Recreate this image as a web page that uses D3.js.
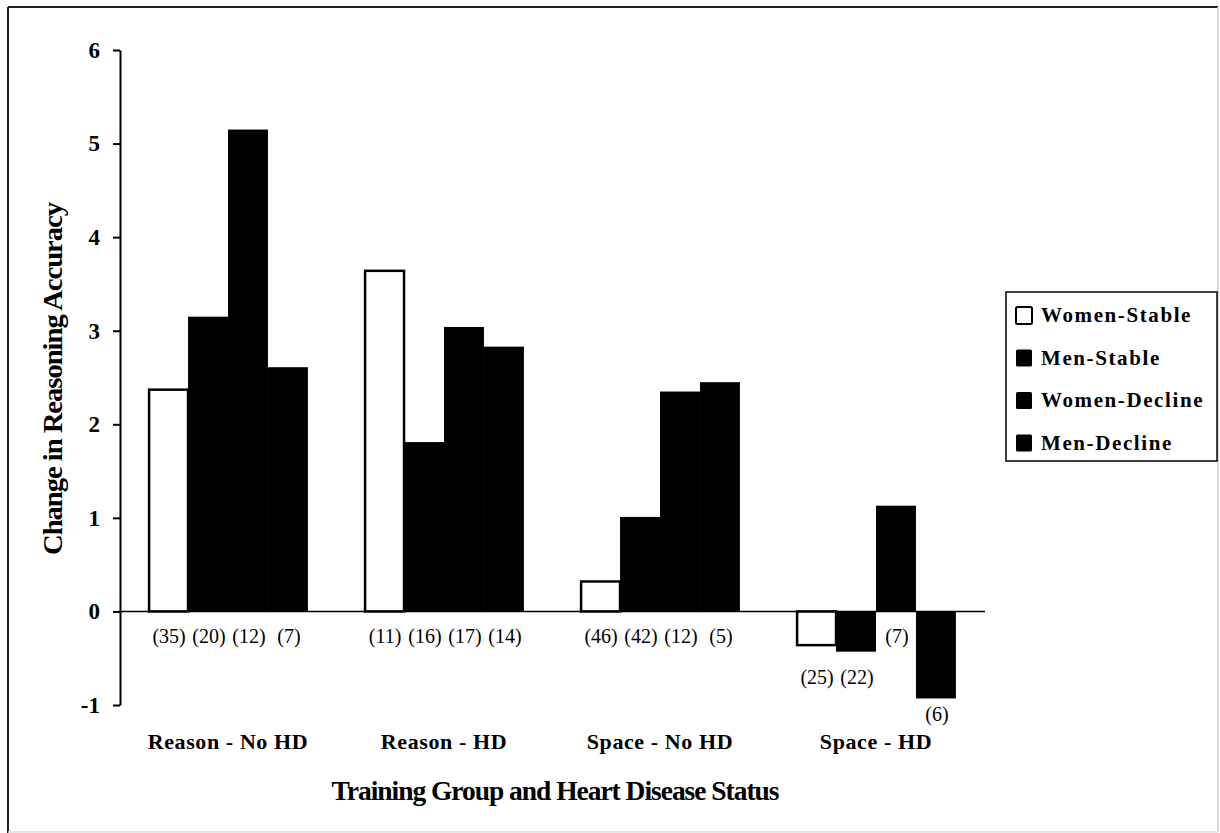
<!DOCTYPE html>
<html>
<head>
<meta charset="utf-8">
<script src="https://cdn.jsdelivr.net/npm/d3@7"></script>
<style>
  body { margin: 0; background: #fff; }
  text { font-family: "Liberation Serif", "DejaVu Serif", serif; fill: #000; }
</style>
</head>
<body>
<script>
// categories and series
var groups = ["Reason - No HD", "Reason - HD", "Space - No HD", "Space - HD"];
var seriesNames = ["Women-Stable", "Men-Stable", "Women-Decline", "Men-Decline"];

// change in reasoning accuracy, one array per series
var womenStable   = [2.37, 3.64, 0.32, -0.36];
var menStable     = [3.15, 1.81, 1.01, -0.43];
var womenDecline  = [5.15, 3.04, 2.35, 1.13];
var menDecline    = [2.61, 2.83, 2.45, -0.93];

// group sizes shown under the bars
var womenStableN  = [35, 11, 46, 25];
var menStableN    = [20, 16, 42, 22];
var womenDeclineN = [12, 17, 12, 7];
var menDeclineN   = [7, 14, 5, 6];

var yTicks = [-1, 0, 1, 2, 3, 4, 5, 6];
var fills = ["#fff", "#000", "#000", "#000"];

var W = 1220, H = 833;

var svg = d3.select("body").append("svg")
    .attr("width", W)
    .attr("height", H);

// outer frame
svg.append("line").attr("x1", 8).attr("y1", 7).attr("x2", 1218).attr("y2", 7)
  .attr("stroke", "#222").attr("stroke-width", 2);
svg.append("line").attr("x1", 8).attr("y1", 7).attr("x2", 8).attr("y2", 833)
  .attr("stroke", "#222").attr("stroke-width", 2);
svg.append("line").attr("x1", 1218).attr("y1", 7).attr("x2", 1218).attr("y2", 832)
  .attr("stroke", "#ccc").attr("stroke-width", 1.5);
svg.append("line").attr("x1", 8).attr("y1", 832).attr("x2", 1218).attr("y2", 832)
  .attr("stroke", "#ddd").attr("stroke-width", 1.5);

// scales
var y = d3.scaleLinear().domain([-1, 6]).range([705, 50]);
var x0 = d3.scaleBand().domain(groups).range([120, 984])
    .paddingInner(0.26).paddingOuter(0.13);
var x1 = d3.scaleBand().domain(seriesNames).range([0, x0.bandwidth()]);

// build the table from the small arrays
var values = [womenStable, menStable, womenDecline, menDecline];
var counts = [womenStableN, menStableN, womenDeclineN, menDeclineN];
var rows = [];
groups.forEach(function(g, gi) {
  seriesNames.forEach(function(s, si) {
    rows.push({group: g, series: s, si: si, value: values[si][gi], n: counts[si][gi]});
  });
});

// y axis
var yAxis = svg.append("g")
    .attr("transform", "translate(120,0)")
    .call(d3.axisLeft(y).tickValues(yTicks).tickSize(7).tickSizeOuter(0).tickPadding(13)
      .tickFormat(function(d) { return String(d); }));
yAxis.select(".domain").attr("stroke", "#000").attr("stroke-width", 2);
yAxis.selectAll(".tick line").attr("stroke", "#000").attr("stroke-width", 2);
yAxis.selectAll(".tick text")
  .style("font-family", "'Liberation Serif', serif")
  .style("font-weight", "bold")
  .style("font-size", "23px")
  .attr("fill", "#000");

// bars
svg.append("g").selectAll("rect")
  .data(rows)
  .enter().append("rect")
    .attr("x", function(d) { return x0(d.group) + x1(d.series) + (d.si === 0 ? 1 : 0); })
    .attr("width", function(d) { return x1.bandwidth() - (d.si === 0 ? 1 : 0); })
    .attr("y", function(d) { return y(Math.max(0, d.value)); })
    .attr("height", function(d) { return Math.abs(y(d.value) - y(0)); })
    .attr("fill", function(d) { return fills[d.si]; })
    .attr("stroke", "#000")
    .attr("stroke-width", function(d) { return d.si === 0 ? 2.5 : 0; });

// zero line
svg.append("line")
  .attr("x1", 120).attr("x2", 985)
  .attr("y1", y(0)).attr("y2", y(0))
  .attr("stroke", "#000").attr("stroke-width", 1.5);

// count labels
svg.append("g").selectAll("text")
  .data(rows)
  .enter().append("text")
    .attr("x", function(d) { return x0(d.group) + x1(d.series) + x1.bandwidth() / 2 + 1; })
    .attr("y", function(d) {
      var c = d.value >= 0 ? y(0) + 25 : Math.max(y(d.value) + 16, y(0) + 66);
      return c + 7;
    })
    .attr("text-anchor", "middle")
    .style("font-size", "20px")
    .text(function(d) { return "(" + d.n + ")"; });

// group labels
svg.append("g").selectAll("text")
  .data(groups)
  .enter().append("text")
    .attr("x", function(d) { return x0(d) + x0.bandwidth() / 2; })
    .attr("y", 749)
    .attr("text-anchor", "middle")
    .style("font-size", "22px")
    .style("font-weight", "bold")
    .style("letter-spacing", "0.6px")
    .text(function(d) { return d; });

// axis titles
svg.append("text")
  .attr("x", 555).attr("y", 800)
  .attr("text-anchor", "middle")
  .attr("textLength", 447).attr("lengthAdjust", "spacingAndGlyphs")
  .style("font-size", "27px")
  .style("font-weight", "bold")
  .style("letter-spacing", "-1px")
  .text("Training Group and Heart Disease Status");

svg.append("text")
  .attr("transform", "translate(62,379) rotate(-90)")
  .attr("text-anchor", "middle")
  .attr("textLength", 352).attr("lengthAdjust", "spacingAndGlyphs")
  .style("font-size", "27px")
  .style("font-weight", "bold")
  .style("letter-spacing", "-1px")
  .text("Change in Reasoning Accuracy");

// legend
var legend = svg.append("g").attr("transform", "translate(1006,292)");
legend.append("rect")
  .attr("width", 211).attr("height", 169)
  .attr("fill", "#fff").attr("stroke", "#000").attr("stroke-width", 1.5);
var item = legend.selectAll(".item")
  .data(seriesNames)
  .enter().append("g")
    .attr("class", "item")
    .attr("transform", function(d, i) { return "translate(0," + (23 + i * 42.5) + ")"; });
item.append("rect")
  .attr("x", 10).attr("y", -8)
  .attr("width", 16).attr("height", 17)
  .attr("rx", 1.5)
  .attr("fill", function(d, i) { return fills[i]; })
  .attr("stroke", "#000").attr("stroke-width", function(d, i) { return i === 0 ? 2 : 0; });
item.append("text")
  .attr("x", 35).attr("y", 7)
  .style("font-size", "21px")
  .style("font-weight", "bold")
  .style("letter-spacing", "1.6px")
  .text(function(d) { return d; });
</script>
</body>
</html>
